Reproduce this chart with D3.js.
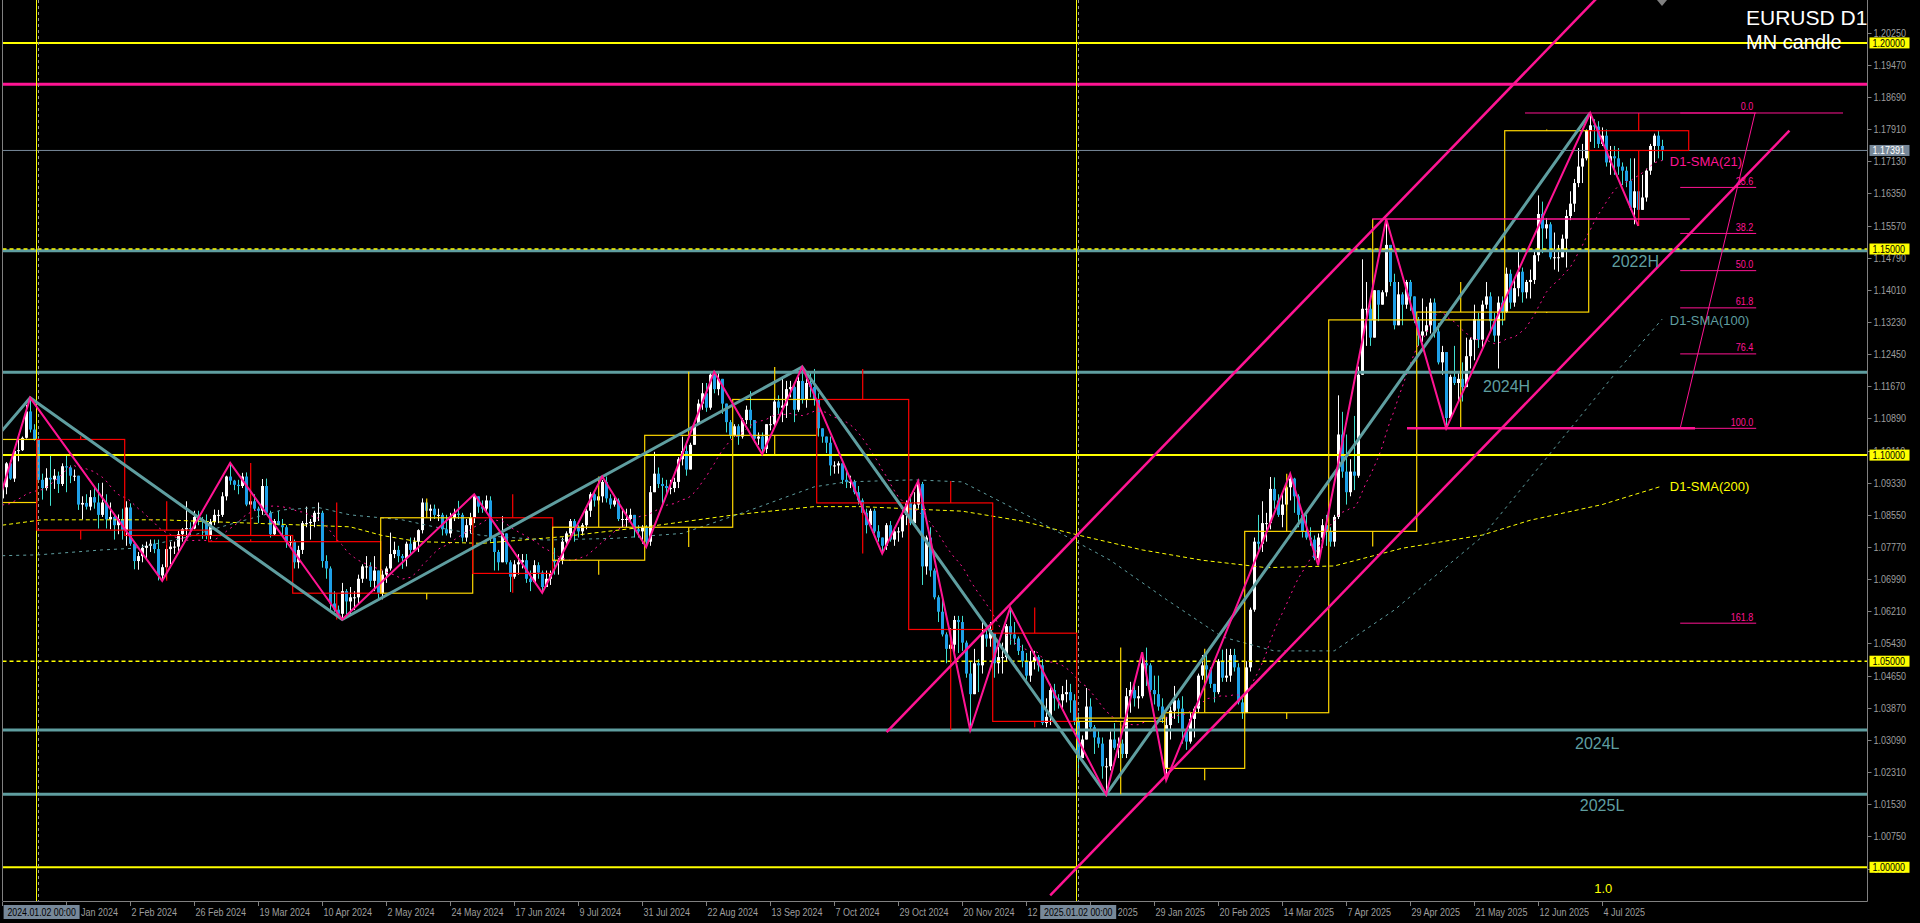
<!DOCTYPE html>
<html><head><meta charset="utf-8">
<script src="https://cdn.jsdelivr.net/npm/d3@7"></script>
<style>html,body{margin:0;padding:0;background:#000;overflow:hidden}svg{display:block}</style>
</head><body>
<svg id="c" width="1920" height="923"></svg>
<script>
// ===== DATA (prices in 1e-4 units) =====
const firstOpen = 10895;
const closes = [
10922,10980,10943,11010,11012,11042,11106,11062,11038,
10940,10920,10945,10941,10950,10930,10973,10970,10950,10950,10880,10884,10875,10898,10885,10855,10885,10844,10850,10830,10845,10818,
10873,10785,10743,10755,10775,10780,10785,10772,10708,10728,10772,10778,10778,10808,10820,10823,10822,10850,10845,10840,10805,
10838,10855,10855,10900,10948,10938,10928,10925,10948,10880,10888,10870,10865,10925,10860,10808,10840,10830,10825,10790,10790,
10740,10770,10835,10835,10838,10860,10860,10743,10725,10640,10625,10615,10670,10645,10655,10655,10700,10730,10730,10695,10720,10665,
10710,10725,10760,10770,10755,10750,10785,10770,10790,10818,10885,10865,10870,10855,10855,10820,10810,10848,10858,10855,10800,10830,10848,
10900,10875,10870,10890,10800,10765,10740,10810,10740,10705,10735,10740,10745,10700,10692,10733,10715,10680,10700,10713,
10740,10745,10790,10810,10840,10825,10815,10830,10865,10905,10890,10900,10935,10895,10880,10890,10845,10845,10845,10855,10820,10815,10825,
10790,10910,10955,10930,10925,10920,10920,10935,10990,11010,10965,11025,11075,11125,11150,11115,11195,11160,11185,11125,11080,11048,
11070,11045,11085,11110,11085,11040,11045,11015,11075,11075,11130,11115,11120,11160,11165,11110,11180,11135,11175,11165,11135,
11065,11045,11030,10975,10975,10980,10940,10935,10935,10910,10890,10860,10830,10865,10815,10800,10780,10830,10795,10815,10815,10855,10884,
10835,10880,10930,10730,10800,10720,10655,10620,10565,10530,10540,10600,10595,10545,10470,10420,10495,10490,10565,10555,10577,
10495,10510,10510,10585,10565,10555,10525,10500,10465,10500,10510,10490,10350,10365,10430,10410,10405,10420,10425,10405,10354,
10265,10310,10390,10340,10315,10300,10245,10245,10310,10290,10300,10275,10415,10430,10410,10415,10495,10490,10430,10420,10390,10362,
10345,10380,10405,10385,10330,10305,10360,10385,10465,10490,10480,10445,10425,10500,10460,10465,10515,10485,10400,10375,
10485,10625,10790,10785,10835,10835,10918,10890,10855,10880,10922,10943,10900,10855,10815,10800,10795,10750,10800,10830,10815,
10790,10850,11050,10960,10910,10960,10950,11195,11355,11355,11285,11400,11365,11395,11510,11420,11315,11390,11365,11420,11385,11328,
11290,11300,11315,11370,11300,11225,11250,11090,11190,11175,11185,11165,11240,11280,11330,11280,11365,11385,11325,11290,11370,11347,
11440,11370,11405,11445,11395,11420,11425,11485,11585,11550,11560,11480,11480,11480,11525,11580,11610,11660,11700,11720,11787,
11800,11797,11755,11775,11710,11725,11720,11700,11690,11665,11600,11640,11595,11625,11690,11750,11775,11750,11739];
const highs = [
10940,10983,10988,11012,11040,11045,11122,11139,11075,
11046,10955,10968,10998,10966,10960,10980,10998,10975,10965,10950,10900,10905,10915,10922,10932,10933,10905,10885,10856,10856,10870,
10888,10883,10790,10765,10783,10790,10795,10795,10795,10735,10782,10790,10790,10816,10823,10888,10837,10865,10865,10850,10856,
10845,10868,10867,10910,10950,10981,10940,10940,10957,10958,10905,10905,10875,10942,10943,10865,10845,10865,10845,10830,10805,
10795,10780,10840,10875,10845,10865,10885,10865,10757,10730,10670,10635,10690,10675,10680,10670,10710,10735,10755,10740,10755,10720,
10720,10730,10812,10790,10780,10760,10790,10800,10800,10820,10895,10890,10880,10880,10870,10860,10855,10860,10870,10889,10860,10845,10860,
10905,10900,10890,10902,10900,10790,10770,10852,10810,10745,10745,10760,10760,10760,10720,10745,10740,10720,10720,10720,
10775,10750,10800,10815,10845,10845,10830,10835,10870,10910,10910,10920,10940,10948,10905,10900,10895,10870,10870,10870,10855,10830,10830,
10830,10925,11008,10970,10945,10940,10940,10945,10995,11045,11025,11030,11080,11135,11175,11175,11200,11202,11200,11185,11125,11085,
11075,11075,11090,11120,11155,11085,11055,11055,11075,11095,11140,11145,11190,11180,11180,11170,11190,11214,11185,11200,11209,
11150,11065,11040,11045,10985,10985,10980,10960,10950,10940,10925,10895,10870,10870,10870,10830,10800,10835,10840,10825,10825,10870,10890,
10905,10910,10937,10935,10805,10825,10725,10660,10655,10570,10580,10610,10610,10610,10550,10500,10530,10505,10595,10575,10595,
10568,10535,10545,10590,10630,10595,10560,10540,10520,10525,10525,10515,10505,10410,10445,10445,10420,10440,10455,10445,10420,
10375,10320,10435,10410,10345,10330,10315,10265,10330,10350,10315,10310,10435,10450,10445,10440,10522,10533,10495,10465,10465,10410,
10365,10390,10440,10410,10415,10335,10375,10390,10470,10515,10515,10485,10445,10505,10528,10530,10530,10530,10495,10410,
10500,10630,10800,10855,10888,10860,10947,10946,10905,10906,10925,10955,10945,10905,10860,10855,10825,10805,10810,10845,10855,
10825,10855,11145,11105,11050,10990,11095,11215,11475,11420,11375,11400,11395,11400,11573,11510,11440,11420,11395,11425,11425,11380,
11335,11380,11360,11380,11380,11320,11265,11250,11195,11265,11200,11225,11285,11285,11365,11345,11375,11420,11395,11345,11385,11385,
11455,11450,11430,11495,11455,11425,11450,11495,11630,11615,11575,11565,11540,11510,11535,11595,11640,11670,11745,11755,11790,
11830,11815,11810,11795,11790,11750,11750,11745,11710,11700,11720,11720,11640,11680,11695,11755,11780,11788,11765];
const lows = [
10888,10905,10940,10935,10985,11010,11040,11055,11035,
10938,10892,10914,10877,10918,10908,10925,10910,10932,10937,10867,10844,10868,10866,10870,10822,10850,10822,10820,10795,10808,10795,
10780,10780,10723,10722,10740,10750,10765,10762,10696,10695,10700,10735,10760,10760,10790,10800,10805,10820,10830,10797,10796,
10796,10830,10835,10850,10890,10928,10915,10905,10920,10876,10872,10865,10835,10855,10855,10800,10805,10830,10805,10775,10775,
10725,10725,10760,10825,10795,10825,10840,10727,10700,10622,10620,10610,10601,10610,10610,10624,10640,10690,10700,10680,10670,10650,
10650,10690,10720,10750,10740,10724,10730,10760,10765,10765,10810,10855,10840,10845,10840,10805,10805,10800,10840,10845,10790,10790,10810,
10835,10860,10860,10860,10790,10720,10720,10740,10735,10668,10700,10710,10725,10690,10670,10690,10700,10666,10680,10685,
10710,10710,10735,10785,10800,10790,10800,10805,10820,10850,10875,10880,10885,10885,10870,10875,10840,10825,10825,10840,10800,10800,10785,
10777,10780,10910,10920,10880,10905,10905,10910,10920,10975,10950,10975,11025,11075,11110,11105,11110,11150,11145,11100,11055,11040,
11045,11025,11040,11075,11065,11030,11025,11002,11005,11060,11070,11100,11080,11090,11140,11080,11105,11125,11115,11140,11120,
11045,11030,11005,10950,10955,10955,10930,10920,10920,10905,10880,10855,10810,10825,10810,10790,10761,10770,10790,10780,10790,10800,10830,
10830,10870,10870,10685,10710,10705,10650,10595,10560,10495,10500,10520,10520,10525,10460,10333,10420,10425,10470,10535,10535,
10460,10470,10470,10500,10540,10540,10515,10485,10455,10450,10480,10475,10345,10340,10345,10380,10385,10385,10400,10375,10345,
10225,10275,10310,10330,10275,10290,10215,10177,10235,10285,10265,10265,10265,10375,10390,10385,10410,10440,10425,10395,10380,10350,
10211,10310,10360,10350,10300,10285,10300,10315,10375,10455,10455,10435,10400,10420,10450,10450,10450,10475,10395,10360,
10380,10475,10620,10770,10765,10790,10820,10870,10850,10825,10865,10890,10860,10825,10800,10795,10780,10745,10733,10775,10780,
10778,10778,10845,10945,10880,10900,10915,10945,11195,11265,11265,11285,11325,11365,11385,11410,11305,11325,11315,11355,11350,11320,
11265,11275,11290,11295,11285,11220,11195,11065,11085,11170,11130,11130,11165,11210,11230,11260,11260,11355,11300,11275,11210,11315,
11345,11355,11360,11385,11370,11380,11380,11415,11470,11490,11525,11475,11450,11445,11480,11455,11570,11590,11650,11660,11715,
11760,11745,11745,11750,11700,11680,11680,11680,11655,11650,11595,11560,11556,11600,11615,11680,11710,11720,11715];
const gapOpens = {138:10745, 248:10568, 291:10240};
const preCloses = [10940,10910,10888,10905,10940,10953,10990,10970,10888,10884,10835,10795,10763,10793,10760,10765,10795,10875,10990,10895];

// monthly candles: [firstBar, nextMonthFirstBar, O, H, L, C]
const monthBars = [
[-11,9,1.0885,1.1139,1.0723,1.1038],[9,31,1.1038,1.1046,1.0795,1.0818],[31,52,1.0818,1.0888,1.0695,1.0805],
[52,73,1.0805,1.0981,1.0796,1.0790],[73,95,1.0790,1.0885,1.0601,1.0665],[95,118,1.0665,1.0895,1.0650,1.0848],
[118,138,1.0848,1.0905,1.0666,1.0713],[138,161,1.0745,1.0948,1.0710,1.0825],[161,183,1.0825,1.1202,1.0777,1.1048],
[183,204,1.1048,1.1214,1.1002,1.1135],[204,227,1.1135,1.1209,1.0761,1.0884],[227,248,1.0884,1.0937,1.0333,1.0577],
[248,269,1.0568,1.0630,1.0340,1.0354],[269,291,1.0354,1.0533,1.0177,1.0362],[291,311,1.0240,1.0530,1.0211,1.0375],
[311,332,1.0375,1.0955,1.0360,1.0815],[332,354,1.0815,1.1573,1.0778,1.1328],[354,376,1.1328,1.1420,1.1065,1.1347],
[376,397,1.1347,1.1790,1.1345,1.1787],[397,422,1.1787,1.1830,1.1556,1.1739]];

// zigzags [bar, price]
const zigzagPink = [[-6,1.0723],[7,1.1139],[40,1.0695],[57,1.0981],[85,1.0601],[118,1.0905],[135,1.0666],[150,1.0948],[161,1.0777],[178,1.1202],[190,1.1002],[200,1.1214],[220,1.0761],[229,1.0937],[242,1.0333],[252,1.0630],[276,1.0177],[285,1.0522],[291,1.0211],[322,1.0955],[329,1.0733],[346,1.1573],[361,1.1065],[397,1.1830],[409,1.1556]];
const zigzagTeal = [[-54,1.0448],[7,1.1139],[85,1.0601],[200,1.1214],[276,1.0177],[397,1.1830]];
const channelLower = [[262,0.9932],[446.8,1.1787]];
const channelUpper = [[221.1,1.0328],[400,1.2122]];

// moving averages [bar, value]
const sma100 = [[0,1.0756],[9,1.0758],[25,1.0770],[33,1.0774],[45,1.0798],[58,1.0835],[70,1.0867],[79,1.0873],[87,1.0855],[100,1.0843],[108,1.0826],[120,1.0805],[136,1.0794],[153,1.0798],[170,1.0810],[186,1.0863],[203,1.0923],[211,1.0935],[228,1.0940],[240,1.0935],[258,1.0845],[277,1.0745],[291,1.0650],[305,1.0559],[318,1.0525],[333,1.0525],[348,1.0624],[370,1.0802],[390,1.1040],[404,1.1207],[415,1.1330]];
const sma200 = [[0,1.0830],[10,1.0843],[40,1.0843],[62,1.0835],[87,1.0826],[95,1.0805],[104,1.0790],[120,1.0786],[140,1.0802],[161,1.0826],[183,1.0855],[203,1.0875],[215,1.0875],[228,1.0869],[240,1.0864],[255,1.0840],[269,1.0806],[285,1.0770],[300,1.0745],[316,1.0727],[333,1.0731],[350,1.0774],[370,1.0806],[382,1.0842],[400,1.0880],[415,1.0925]];

// horizontal levels
const yellowSolid = [1.20, 1.10, 1.00];
const yellowDashed = [1.15, 1.05];
const tealLevels = [["2022H",1.1496],["2024H",1.1201],["2024L",1.0333],["2025L",1.0177]];
const pinkLevel = 1.1900;
const bidPrice = 1.17391;

// fibonacci
const fibTop = 1.1830, fibBottom = 1.1065;
const fibLevels = [0, 23.6, 38.2, 50, 61.8, 76.4, 100, 161.8];

// axis labels
const priceTickLabels = ["1.20250","1.19470","1.18690","1.17910","1.17130","1.16350","1.15570","1.14790","1.14010","1.13230","1.12450","1.11670","1.10890","1.10110","1.09330","1.08550","1.07770","1.06990","1.06210","1.05430","1.04650","1.03870","1.03090","1.02310","1.01530","1.00750","0.99970"];
const dateTickLabels = ["18 Dec 2023","11 Jan 2024","2 Feb 2024","26 Feb 2024","19 Mar 2024","10 Apr 2024","2 May 2024","24 May 2024","17 Jun 2024","9 Jul 2024","31 Jul 2024","22 Aug 2024","13 Sep 2024","7 Oct 2024","29 Oct 2024","20 Nov 2024","12 Dec 2024","7 Jan 2025","29 Jan 2025","20 Feb 2025","14 Mar 2025","7 Apr 2025","29 Apr 2025","21 May 2025","12 Jun 2025","4 Jul 2025"];
const markedPrices = [["1.20000",1.2,"#ffff00","#000"],["1.17391",1.17391,"#778899","#fff"],["1.15000",1.15,"#ffff00","#000"],["1.10000",1.1,"#ffff00","#000"],["1.05000",1.05,"#ffff00","#000"],["1.00000",1.0,"#ffff00","#000"]];
const markedDates = [["2024.01.02 00:00",9],["2025.01.02 00:00",269]];
const separatorBars = [9, 269];

// ===== DRAW =====
const W=1920,H=923, plotL=2.5, plotR=1867.5, plotB=901;
const x = d3.scaleLinear().domain([0,415]).range([2.2,1662.2]);
const y = d3.scaleLinear().domain([0.991824,1.210412]).range([901,0]);
const FONT = "'Liberation Sans', Arial, sans-serif";
const PINK="#ff1493", TEAL="#5f9ea0", YEL="#ffff00", GOLD="#ffd700";

const svg = d3.select('#c');
svg.append('rect').attr('width',W).attr('height',H).attr('fill','#000');
svg.append('defs').append('clipPath').attr('id','pc').append('rect')
  .attr('x',plotL).attr('y',0).attr('width',plotR-plotL).attr('height',plotB);
const g = svg.append('g').attr('clip-path','url(#pc)');

function txt(parent,str,x0,y0,size,color,sx,anchor){
  return parent.append('text').attr('transform',`translate(${x0},${y0}) scale(${sx||1},1)`)
    .attr('font-family',FONT).attr('font-size',size).attr('fill',color)
    .attr('text-anchor',anchor||'start').text(str);
}
function hline(p,col,w,dash,x0,x1){
  g.append('line').attr('x1',x0??plotL).attr('x2',x1??plotR).attr('y1',y(p)).attr('y2',y(p))
   .attr('stroke',col).attr('stroke-width',w).attr('stroke-dasharray',dash||null);
}

// candles
const bars = closes.map((c,i)=>{
  const o = (gapOpens[i]!==undefined? gapOpens[i] : (i? closes[i-1] : firstOpen))/1e4;
  const cc=c/1e4;
  return {i,o,c:cc,h:Math.max(highs[i]/1e4,o,cc),l:Math.min(lows[i]/1e4,o,cc)};
});
const cg = g.append('g');
bars.forEach(b=>{
  const bull = b.c>=b.o;
  const cx = Math.round(x(b.i));
  cg.append('line').attr('x1',cx+0.5).attr('x2',cx+0.5).attr('y1',y(b.h)).attr('y2',y(b.l))
    .attr('stroke',bull?'#ffffff':'#40e0d0').attr('stroke-width',1);
  const yt=y(Math.max(b.o,b.c)), yb=y(Math.min(b.o,b.c));
  cg.append('rect').attr('x',cx-1).attr('width',3).attr('y',yt).attr('height',Math.max(1,yb-yt))
    .attr('fill',bull?'#ffffff':'#1ea0e8');
});

// SMA lines
const allC = preCloses.concat(closes);
const sma21 = closes.map((c,i)=>[i, d3.mean(allC.slice(i,i+21))/1e4]);
const ln = d3.line().x(d=>x(d[0])).y(d=>y(d[1]));
g.append('path').attr('d',ln(sma200)).attr('fill','none').attr('stroke',YEL).attr('stroke-width',1).attr('stroke-dasharray','4,3');
g.append('path').attr('d',ln(sma100)).attr('fill','none').attr('stroke',TEAL).attr('stroke-width',1).attr('stroke-dasharray','3,4');
g.append('path').attr('d',ln(sma21)).attr('fill','none').attr('stroke',PINK).attr('stroke-width',1).attr('stroke-dasharray','2,4');

// horizontal levels
tealLevels.forEach(d=>hline(d[1],TEAL,3));
yellowSolid.forEach(p=>hline(p,YEL,2));
yellowDashed.forEach(p=>hline(p,YEL,1.5,'4,3'));
hline(pinkLevel,PINK,3);
hline(bidPrice,'#778899',1);

// separators
separatorBars.forEach(i=>{
  g.append('line').attr('x1',Math.round(x(i))-1.5).attr('x2',Math.round(x(i))-1.5).attr('y1',0).attr('y2',plotB).attr('stroke',YEL).attr('stroke-width',1);
  g.append('line').attr('x1',Math.round(x(i))+0.5).attr('x2',Math.round(x(i))+0.5).attr('y1',0).attr('y2',plotB).attr('stroke','#9a9a9a').attr('stroke-width',1).attr('stroke-dasharray','3,3');
});

// monthly candles
monthBars.forEach(m=>{
  const [f,n,o,h,l,c]=m; const col = c>=o?GOLD:'#ff0000';
  const x0=x(f)-1.5, x1=x(n)-1.5, xm=(x0+x1)/2;
  const yt=y(Math.max(o,c)), yb=y(Math.min(o,c));
  g.append('rect').attr('x',x0).attr('y',yt).attr('width',x1-x0).attr('height',Math.max(1,yb-yt))
    .attr('fill','none').attr('stroke',col).attr('stroke-width',1.2);
  g.append('line').attr('x1',xm).attr('x2',xm).attr('y1',y(h)).attr('y2',yt).attr('stroke',col).attr('stroke-width',1.2);
  g.append('line').attr('x1',xm).attr('x2',xm).attr('y1',yb).attr('y2',y(l)).attr('stroke',col).attr('stroke-width',1.2);
});

// zigzags
g.append('path').attr('d',ln(zigzagTeal)).attr('fill','none').attr('stroke',TEAL).attr('stroke-width',3);
g.append('path').attr('d',ln(zigzagPink)).attr('fill','none').attr('stroke',PINK).attr('stroke-width',2);
// channel
g.append('path').attr('d',ln(channelLower)).attr('fill','none').attr('stroke',PINK).attr('stroke-width',2.5);
g.append('path').attr('d',ln(channelUpper)).attr('fill','none').attr('stroke',PINK).attr('stroke-width',2.5);

// fibonacci objects
const fibL=419.5, fibR=438.5;
hline(fibTop,PINK,1,null,x(380.7),x(460.2));
hline(1.1573,PINK,1.5,null,x(342.5),x(421.9));
hline(fibBottom,PINK,2.5,null,x(351.2),x(423.2));
fibLevels.forEach(lv=>{
  const p = fibTop - lv/100*(fibTop-fibBottom);
  hline(p,PINK,1,null,x(fibL),x(fibR));
  txt(g,lv.toFixed(1),x(fibR)-3,y(p)-2.5,10,PINK,0.9,'end');
});
g.append('line').attr('x1',x(fibL)).attr('y1',y(fibBottom)).attr('x2',x(438.2)).attr('y2',y(fibTop)).attr('stroke',PINK).attr('stroke-width',1);

// level texts
const lvlText = {"2022H":[402.4,1.1456],"2024H":[370.2,1.1153],"2024L":[393.2,1.0287],"2025L":[394.4,1.0137]};
tealLevels.forEach(d=>{const t=lvlText[d[0]]; txt(g,d[0],x(t[0]),y(t[1]),16,TEAL,1);});
txt(g,"1.0",x(398),y(0.9938),13,YEL,1);

// SMA labels
txt(g,"D1-SMA(21)",x(416.9),y(sma21[sma21.length-1][1])+5,13,PINK,1);
txt(g,"D1-SMA(100)",x(416.9),y(sma100[sma100.length-1][1])+6,13,TEAL,1);
txt(g,"D1-SMA(200)",x(416.9),y(sma200[sma200.length-1][1])+5,13,YEL,1);

// shift marker
svg.append('path').attr('d','M1657,0 L1667,0 L1662,6 Z').attr('fill','#808080');

// borders
svg.append('line').attr('x1',plotL).attr('x2',plotL).attr('y1',0).attr('y2',plotB).attr('stroke','#808080');
svg.append('line').attr('x1',plotR).attr('x2',plotR).attr('y1',0).attr('y2',plotB+0.5).attr('stroke','#808080');
svg.append('line').attr('x1',plotL).attr('x2',plotR).attr('y1',plotB+0.5).attr('y2',plotB+0.5).attr('stroke','#808080');

// price axis
const ax = svg.append('g');
priceTickLabels.forEach(s=>{
  const v=+s, yy=Math.round(y(v))+0.5;
  ax.append('line').attr('x1',plotR).attr('x2',plotR+4).attr('y1',yy).attr('y2',yy).attr('stroke','#808080');
  txt(ax,s,plotR+6,yy+3.5,10,'#9e9e9e',0.9);
});
markedPrices.forEach(([s,v,bg,fg])=>{
  const yy=y(v);
  ax.append('rect').attr('x',plotR+2).attr('y',yy-5.5).attr('width',40).attr('height',11).attr('fill',bg);
  txt(ax,s,plotR+5,yy+4,10,fg,0.9);
});

// time axis: highlighted date boxes hide the labels underneath
const HW=76;
const hiBoxes = markedDates.map(([s,i])=>{ let x0=x(i)-HW/2; if(x0<plotL+1) x0=plotL+1.1; return [x0,x0+HW]; });
const measure = ax.append('text').attr('font-family',FONT).attr('font-size',10).attr('opacity',0);
function tw(s){ measure.text(s); return measure.node().getComputedTextLength()*0.9; }
dateTickLabels.forEach((s,k)=>{
  const xx=Math.round(x(k*16))+0.5;
  ax.append('line').attr('x1',xx).attr('x2',xx).attr('y1',plotB+1).attr('y2',plotB+5).attr('stroke','#808080');
  const x0=xx+1, full=tw(s);
  const hit = hiBoxes.find(b=> x0 < b[1] && x0+full > b[0]);
  if(!hit){ txt(ax,s,x0,916,10,'#9e9e9e',0.9); return; }
  // show only the parts of the label that peek out beside the highlight box
  const words=s.split(' '); let prefix='';
  const left=[], right=[];
  words.forEach((w,j)=>{
    const start = x0 + tw(prefix + (j?' ':'')); const end = start + tw(w);
    prefix += (j?' ':'') + w;
    if(end <= hit[0]+1) left.push(w);
    else if(end > hit[1]+6) right.push(w);
  });
  if(left.length) txt(ax,left.join(' '),x0,916,10,'#9e9e9e',0.9);
  if(right.length) txt(ax,right.join(' '),hit[1]+1.5,916,10,'#9e9e9e',0.9);
});
measure.remove();
markedDates.forEach(([s,i],k)=>{
  const [x0,x1]=hiBoxes[k];
  ax.append('rect').attr('x',x0).attr('y',905).attr('width',HW).attr('height',14).attr('fill','#778899');
  txt(ax,s,(x0+x1)/2,916,10,'#000',0.88,'middle');
});

// title
txt(svg,"EURUSD D1",1746,25,21,'#ffffff',1);
txt(svg,"MN candle",1746,49,20,'#ffffff',1);
</script>
</body></html>
